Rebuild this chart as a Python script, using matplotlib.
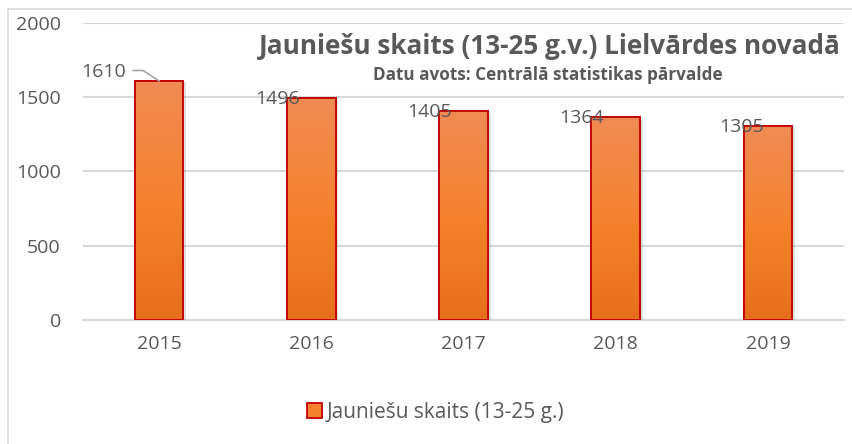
import numpy as np
import matplotlib.pyplot as plt
from matplotlib import patheffects
from matplotlib.patches import Patch
from matplotlib.colors import LinearSegmentedColormap
from matplotlib.lines import Line2D

years = ['2015', '2016', '2017', '2018', '2019']
youth_count = [1610, 1496, 1405, 1364, 1305]
yticks = [0, 500, 1000, 1500, 2000]

title = 'Jauniešu skaits (13-25 g.v.) Lielvārdes novadā'
subtitle = 'Datu avots: Centrālā statistikas pārvalde'
series_name = 'Jauniešu skaits (13-25 g.)'

plt.rcParams['font.family'] = ['Open Sans', 'DejaVu Sans']
text_color = '#595959'
grid_color = '#D9D9D9'
edge_red = '#C00000'

fig = plt.figure(figsize=(8.52, 4.44), dpi=100)
ax = fig.add_axes([83 / 852, 1 - 320 / 444, 761 / 852, 297 / 444])

x = np.arange(len(years))
bars = ax.bar(x, youth_count, width=0.32, color='#F5822F', edgecolor=edge_red,
              linewidth=1.3, zorder=3)

# gradient fill, a bit lighter at the top
grad_cmap = LinearSegmentedColormap.from_list('orange_grad', ['#E76F1C', '#F5822F', '#F08B55'])
grad = np.linspace(0, 1, 256).reshape(-1, 1)
for b in bars:
    b.set_path_effects([patheffects.SimplePatchShadow(offset=(2, -1), alpha=0.25, shadow_rgbFace='#808080'),
                        patheffects.Normal()])
    x0, y0 = b.get_x(), b.get_y()
    im = ax.imshow(grad, extent=[x0, x0 + b.get_width(), y0, y0 + b.get_height()],
                   origin='lower', cmap=grad_cmap, aspect='auto', zorder=3.5)
    im.set_clip_path(b)
    outline = plt.Rectangle((x0, y0), b.get_width(), b.get_height(), fill=False,
                            edgecolor=edge_red, linewidth=1.3, zorder=4)
    ax.add_patch(outline)

ax.set_xlim(-0.5, len(years) - 0.5)
ax.set_ylim(0, 2000)
ax.set_yticks(yticks)
ax.set_xticks(x)
ax.set_xticklabels(years)
ax.yaxis.grid(True, color=grid_color, linewidth=1.5, zorder=0)
ax.set_axisbelow(True)
for s in ['top', 'right', 'left']:
    ax.spines[s].set_visible(False)
ax.spines['bottom'].set_color(grid_color)
ax.spines['bottom'].set_linewidth(1.5)
ax.tick_params(axis='both', length=0, labelsize=14, colors=text_color)
ax.tick_params(axis='y', pad=16)
ax.tick_params(axis='x', pad=11)

# data labels
for i, v in enumerate(youth_count):
    if i == 0:
        ax.annotate(str(v), xy=(i, v), xytext=(-33, 9), textcoords='offset pixels',
                    ha='right', va='center', fontsize=14, color=text_color, zorder=6)
        ax.add_line(Line2D([i - 0.17, i - 0.105, i], [v + 70, v + 70, v],
                           color='#A6A6A6', linewidth=1.2, zorder=6))
    else:
        off = -26 if i == len(youth_count) - 1 else -34
        ax.annotate(str(v), xy=(i, v), xytext=(off, -1), textcoords='offset pixels',
                    ha='center', va='center', fontsize=14, color=text_color, zorder=6)

fig.text(550 / 852, 1 - 47 / 444, title, ha='center', va='center', fontsize=18.8,
         fontweight='bold', color=text_color)
fig.text(548 / 852, 1 - 75 / 444, subtitle, ha='center', va='center', fontsize=12.3,
         fontweight='bold', color=text_color)

handle = Patch(facecolor='#F5822F', edgecolor=edge_red, linewidth=1.3)
fig.legend([handle], [series_name], loc='center', bbox_to_anchor=(436 / 852, 1 - 412 / 444),
           frameon=False, fontsize=15, handlelength=0.7, handleheight=0.7,
           handletextpad=0.25, labelcolor=text_color)

# chart border (left and top visible)
fig.add_artist(Line2D([8 / 852, 8 / 852], [0, 1 - 9 / 444], color=grid_color, linewidth=1.2))
fig.add_artist(Line2D([8 / 852, 1], [1 - 9 / 444, 1 - 9 / 444], color=grid_color, linewidth=1.2))

fig.savefig('out.png', dpi=100)
